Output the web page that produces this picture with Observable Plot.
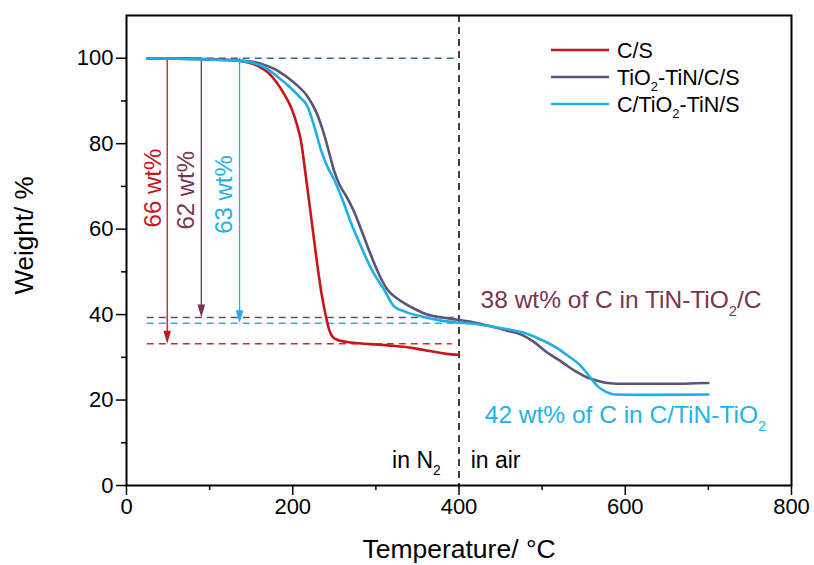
<!DOCTYPE html>
<html><head><meta charset="utf-8">
<script src="https://cdn.jsdelivr.net/npm/d3@7"></script>
<script src="https://cdn.jsdelivr.net/npm/@observablehq/plot@0.6"></script>
<style>body{margin:0;background:#fff} #chart{width:814px;height:565px;position:relative}</style>
</head><body><div id="chart"></div>
<script>
// ---- data ----
const seriesNames = ["C/S", "TiO₂-TiN/C/S", "C/TiO₂-TiN/S"];

const csTemp   = [25, 60, 100, 130, 150, 160, 170, 180, 190, 198, 205, 210, 215, 220, 225, 230, 235, 240, 244, 248, 255, 265, 280, 300, 320, 340, 355, 370, 385, 400];
const csWeight = [100, 99.95, 99.8, 99.5, 98.8, 98, 96.7, 94.5, 91.5, 88.5, 84.5, 80.5, 73.5, 66, 58.5, 51, 44.5, 39.5, 36.3, 34.8, 34, 33.6, 33.3, 33.0, 32.7, 32.3, 31.8, 31.3, 30.8, 30.6];

const ttcsTemp   = [25, 60, 100, 130, 150, 165, 180, 193, 205, 218, 228, 238, 245, 250, 256, 265, 274, 285, 298, 306, 314, 324, 334, 348, 362, 380, 398, 420, 439, 457, 475, 490, 507, 520, 531, 543, 555, 567, 579, 600, 650, 700];
const ttcsWeight = [100, 99.9, 99.7, 99.5, 99.2, 98.5, 97.3, 95.6, 93.7, 91, 87.5, 82, 77, 73.5, 70.5, 67.5, 64, 58.5, 52, 48.5, 45.8, 44, 42.7, 41.2, 40, 39.3, 38.8, 38.1, 37.2, 36.3, 35.3, 33.6, 31, 29.4, 27.9, 26.4, 25.2, 24.5, 24.0, 23.8, 23.8, 24.0];

const cttsTemp   = [25, 60, 100, 130, 150, 165, 181, 195, 208, 218, 226, 234, 242, 250, 260, 270, 282, 295, 310, 322, 335, 354, 375, 394, 420, 439, 460, 479, 497, 515, 530, 547, 557, 567, 577, 587, 620, 700];
const cttsWeight = [100, 99.9, 99.7, 99.5, 99.0, 98, 95.8, 93.5, 91, 88.6, 84, 78.5, 74.5, 71.5, 66.8, 61.5, 56, 50.5, 45.8, 41.9, 40.7, 39.6, 38.7, 38.2, 37.8, 37.2, 36.5, 35.7, 34.3, 32.5, 30.5, 27.9, 25.5, 23.2, 21.9, 21.3, 21.2, 21.3];

const tempStart = 25;
const switchTemp = 400;
const fullWeight = 100;
const residueLevels = [33.2, 39.3, 38.0];        // dashed residue levels (C/S, TiO2-TiN/C/S, C/TiO2-TiN/S)
const residueEnds   = [392, 400, 400];
const arrowTemps    = [49, 90, 136];
const lossLabels    = ["66 wt%", "62 wt%", "63 wt%"];
const lossLabelTemp = [32, 72, 118];
const lossLabelWt   = [69.6, 69.1, 68.1];

const carbonLabels = ["38 wt% of C in TiN-TiO₂/C", "42 wt% of C in C/TiN-TiO₂"];
const carbonLabelTemp = [426, 431];
const carbonLabelWt   = [43.3, 16.4];

const atmLabels = ["in N₂", "in air"];
const atmLabelTemp = [378, 414];
const atmLabelWt = [5.9, 5.9];

const xMajorTicks = [0, 200, 400, 600, 800];
const xMinorTicks = [100, 300, 500, 700];
const yMajorTicks = [0, 20, 40, 60, 80, 100];
const yMinorTicks = [10, 30, 50, 70, 90];

// ---- styles ----
const FONT = '"Liberation Sans", Arial, Helvetica, sans-serif';
const lineColors  = ["#c4161c", "#5a5478", "#1eaee8"];
const dashColors  = ["#d0282c", "#6e4a68", "#2ab0e6"];
const annotColors = ["#c4161c", "#7a3352", "#22b2ea"];
const carbonColors = ["#7a3352", "#22b2ea"];

const toRows = (ts, ws) => ts.map((t, i) => ({t, w: ws[i]}));
const curves = [toRows(csTemp, csWeight), toRows(ttcsTemp, ttcsWeight), toRows(cttsTemp, cttsWeight)];

const arrowHead = {draw(ctx) { ctx.moveTo(0, 0); ctx.lineTo(-3.8, -13); ctx.lineTo(3.8, -13); ctx.closePath(); }};

const marks = [];
marks.push(Plot.ruleY([fullWeight], {x1: tempStart, x2: switchTemp, stroke: "#2b6a95", strokeWidth: 1.5, strokeDasharray: "7,5"}));
residueLevels.forEach((lv, i) => {
  marks.push(Plot.ruleY([lv], {x1: tempStart, x2: residueEnds[i], stroke: dashColors[i], strokeWidth: 1.5, strokeDasharray: "7,5"}));
});
marks.push(Plot.ruleX([switchTemp], {stroke: "black", strokeWidth: 1.5, strokeDasharray: "7,5"}));
arrowTemps.forEach((t, i) => {
  marks.push(Plot.ruleX([t], {y1: fullWeight, y2: residueLevels[i] + 2, stroke: annotColors[i], strokeWidth: 1.3}));
  marks.push(Plot.dot([{t, w: residueLevels[i]}], {x: "t", y: "w", symbol: arrowHead, fill: annotColors[i], r: 5}));
});
curves.forEach((rows, i) => {
  marks.push(Plot.line(rows, {x: "t", y: "w", stroke: lineColors[i], strokeWidth: 2.6, curve: "monotone-x"}));
});
lossLabels.forEach((s, i) => {
  marks.push(Plot.text([s], {x: () => lossLabelTemp[i], y: () => lossLabelWt[i], text: d => d, rotate: -90, fill: annotColors[i], fontSize: 24}));
});
carbonLabels.forEach((s, i) => {
  marks.push(Plot.text([s], {x: () => carbonLabelTemp[i], y: () => carbonLabelWt[i], text: d => d, textAnchor: "start", fill: carbonColors[i], fontSize: 24.5}));
});
atmLabels.forEach((s, i) => {
  marks.push(Plot.text([s], {x: () => atmLabelTemp[i], y: () => atmLabelWt[i], text: d => d, textAnchor: i === 0 ? "end" : "start", fill: "black", fontSize: 23}));
});
marks.push(
  Plot.axisX({ticks: xMajorTicks, tickSize: 10, tickPadding: 3, fontSize: 22, label: null, strokeWidth: 1.5, tickFormat: d => String(d)}),
  Plot.axisX({ticks: xMinorTicks, tickSize: 5, tickFormat: () => "", label: null, strokeWidth: 1.5}),
  Plot.axisY({ticks: yMajorTicks, tickSize: 10, tickPadding: 3, fontSize: 22, label: null, strokeWidth: 1.5, tickFormat: d => String(d)}),
  Plot.axisY({ticks: yMinorTicks, tickSize: 5, tickFormat: () => "", label: null, strokeWidth: 1.5}),
  Plot.text(["Temperature/ °C"], {frameAnchor: "bottom", text: d => d, dy: 64, lineAnchor: "middle", textAnchor: "middle", fontSize: 26.5, fill: "black"}),
  Plot.text(["Weight/ %"], {frameAnchor: "left", text: d => d, rotate: -90, dx: -102, dy: -15, textAnchor: "middle", lineAnchor: "middle", fontSize: 26, fill: "black"}),
  Plot.frame({stroke: "black", strokeWidth: 2})
);

const chart = Plot.plot({
  width: 814, height: 565,
  marginLeft: 126, marginRight: 23, marginTop: 15, marginBottom: 80,
  x: {domain: [0, 800]},
  y: {domain: [0, 110]},
  style: {fontFamily: FONT, background: "white", color: "black", overflow: "visible"},
  marks
});
document.getElementById("chart").appendChild(chart);

// legend (inside the SVG, top-right)
const legendRowY = [50, 77, 104];
const lg = d3.select(chart).append("g").attr("font-family", FONT).attr("font-size", 21.5).attr("text-anchor", "start");
seriesNames.forEach((name, i) => {
  lg.append("line").attr("x1", 551).attr("x2", 609).attr("y1", legendRowY[i]).attr("y2", legendRowY[i])
    .attr("stroke", lineColors[i]).attr("stroke-width", 2.6);
  lg.append("text").attr("x", 617).attr("y", legendRowY[i]).attr("dy", "0.35em")
    .attr("text-anchor", "start").attr("fill", "black").text(name);
});

// subscripts
function subscriptify(svg) {
  svg.querySelectorAll("text").forEach(t => {
    if (t.querySelector("tspan")) return;
    const s = t.textContent;
    if (!s.includes("₂")) return;
    const fs = parseFloat(getComputedStyle(t).fontSize) || 20;
    const shift = fs * 0.3;
    const parts = s.split("₂");
    t.textContent = "";
    let pending = 0;
    parts.forEach((p, i) => {
      if (i > 0) {
        const sub = document.createElementNS("http://www.w3.org/2000/svg", "tspan");
        sub.setAttribute("font-size", (fs * 0.6).toFixed(1));
        sub.setAttribute("dy", shift.toFixed(1));
        sub.textContent = "2";
        t.appendChild(sub);
        pending = -shift;
      }
      if (p.length) {
        const ts = document.createElementNS("http://www.w3.org/2000/svg", "tspan");
        if (pending) ts.setAttribute("dy", pending.toFixed(1));
        pending = 0;
        ts.textContent = p;
        t.appendChild(ts);
      }
    });
  });
}
subscriptify(chart);
</script></body></html>
